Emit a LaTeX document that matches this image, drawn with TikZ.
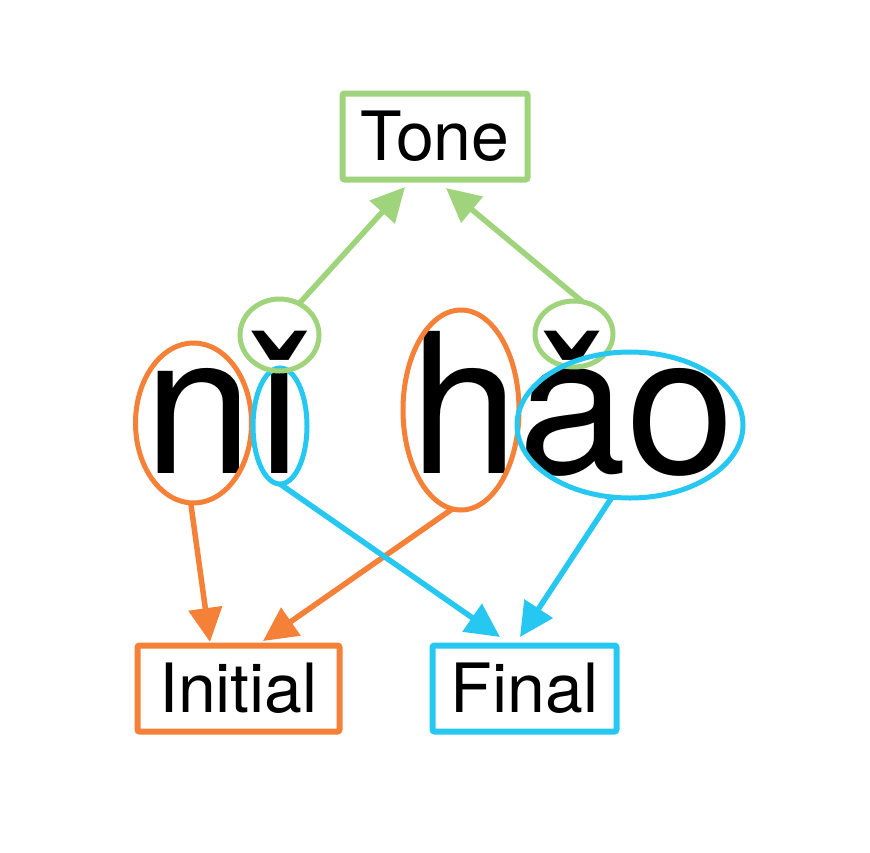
\documentclass[tikz,border=0pt]{standalone}
\usepackage{fontspec}
\setmainfont{TeX Gyre Heros}
\usetikzlibrary{arrows.meta,shapes.geometric}
\definecolor{cOr}{RGB}{245,128,55}
\definecolor{cGr}{RGB}{160,212,124}
\definecolor{cCy}{RGB}{38,200,242}
\begin{document}
\begin{tikzpicture}[x=1pt,y=-1pt,
  labelbox/.style={draw,line width=6pt,rounded corners=2pt,inner sep=0pt,outer sep=0pt,
     minimum height=86pt,font=\fontsize{68}{70}\selectfont,text=black},
  bigtext/.style={inner sep=0pt,outer sep=0pt,anchor=base west,font=\fontsize{195}{200}\selectfont},
  ring/.style={draw,ellipse,line width=5pt,inner sep=0pt,outer sep=0pt},
  link/.style={line width=5.5pt,-{Triangle[length=34pt,width=33pt]}}
]
\useasboundingbox (0,0) rectangle (870,852);
\fill[white] (0,0) rectangle (870,852);

% boxes
\node[labelbox,draw=cGr,minimum width=185pt] (tone) at (435,136.5) {Tone};
\node[labelbox,draw=cOr,minimum width=202pt] (initial) at (238.5,688.5) {Initial};
\node[labelbox,draw=cCy,minimum width=184pt] (final) at (524.5,688.5) {Final};

% big text
\node[bigtext] (ni) at (144,473) {nǐ};
\node[bigtext] (hao) at (410,473) {hǎo};

% ellipses
\node[ring,draw=cOr,minimum width=116pt,minimum height=160pt] (nE) at (193.5,423) {};
\node[ring,draw=cCy,minimum width=54pt,minimum height=116pt] (iE) at (280,426) {};
\node[ring,draw=cGr,minimum width=79pt,minimum height=72pt] (g1) at (279.5,335) {};
\node[ring,draw=cOr,minimum width=116pt,minimum height=200pt] (hE) at (461,410) {};
\node[ring,draw=cGr,minimum width=78pt,minimum height=66pt] (g2) at (574,334) {};
\node[ring,draw=cCy,minimum width=226pt,minimum height=146pt] (aoE) at (630,425) {};

% arrow tips
\coordinate (toneL) at (405,187);
\coordinate (toneR) at (446,188);
\coordinate (iniL) at (210,642);
\coordinate (iniR) at (263,641);
\coordinate (finL) at (500,637);
\coordinate (finR) at (520,637);

% connectors
\draw[link,cGr] (g1.58) -- (toneL);
\draw[link,cGr] (g2.75) -- (toneR);
\draw[link,cOr] (nE.268) -- (iniL);
\draw[link,cOr] (hE.265) -- (iniR);
\draw[link,cCy] (iE.south) -- (finL);
\draw[link,cCy] (aoE.256) -- (finR);
\end{tikzpicture}
\end{document}
